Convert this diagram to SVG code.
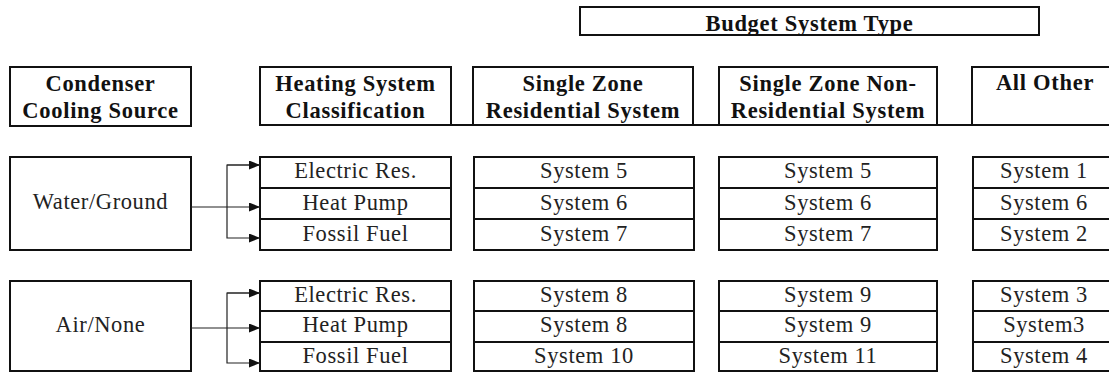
<svg xmlns="http://www.w3.org/2000/svg" width="1109" height="372" viewBox="0 0 1109 372">
<style>
.box{fill:#fff;stroke:#111;stroke-width:2}
.div{stroke:#111;stroke-width:2;fill:none}
.hd{font-family:"Liberation Serif","Times New Roman",serif;font-weight:bold;font-size:22.5px;letter-spacing:0.7px;fill:#111;text-anchor:middle}
.tx{font-family:"Liberation Serif","Times New Roman",serif;font-size:22.5px;letter-spacing:0.6px;fill:#222;text-anchor:middle}
.cn{stroke:#222;stroke-width:1.2;fill:none}
</style>
<defs>
<marker id="ah" viewBox="0 0 11 9" refX="11" refY="4.5" markerWidth="11" markerHeight="9" markerUnits="userSpaceOnUse" orient="auto">
<path d="M0,0 L11,4.5 L0,9 Z" fill="#111"/>
</marker>
</defs>
<rect width="1109" height="372" fill="#fff"/>

<g id="budget">
<rect class="box" x="580" y="7" width="459" height="28"/>
<text class="hd" x="809.5" y="31">Budget System Type</text>
</g>

<line class="div" x1="451" y1="125" x2="1109" y2="125"/>

<g id="hdr-condenser">
<rect class="box" x="10" y="67" width="181" height="59"/>
<text class="hd" x="100.5" y="91">Condenser</text>
<text class="hd" x="100.5" y="118">Cooling Source</text>
</g>
<g id="hdr-heating">
<rect class="box" x="260" y="67" width="191" height="58"/>
<text class="hd" x="355.5" y="91">Heating System</text>
<text class="hd" x="355.5" y="118">Classification</text>
</g>
<g id="hdr-szres">
<rect class="box" x="473" y="67" width="220" height="58"/>
<text class="hd" x="583" y="91">Single Zone</text>
<text class="hd" x="583" y="118">Residential System</text>
</g>
<g id="hdr-sznonres">
<rect class="box" x="719" y="67" width="218" height="58"/>
<text class="hd" x="828" y="91">Single Zone Non-</text>
<text class="hd" x="828" y="118">Residential System</text>
</g>
<g id="hdr-other">
<rect class="box" x="972" y="67" width="150" height="58"/>
<text class="hd" x="1045" y="90">All Other</text>
</g>

<g id="water-ground">
<rect class="box" x="10" y="157" width="181" height="93"/>
<text class="tx" x="100.5" y="209">Water/Ground</text>
</g>
<g id="air-none">
<rect class="box" x="10" y="281" width="181" height="90"/>
<text class="tx" x="100.5" y="332">Air/None</text>
</g>

<g id="heat-1">
<rect class="box" x="260" y="157" width="191" height="93"/>
<line class="div" x1="260" y1="188" x2="451" y2="188"/>
<line class="div" x1="260" y1="219" x2="451" y2="219"/>
<text class="tx" x="355.5" y="178">Electric Res.</text>
<text class="tx" x="355.5" y="210">Heat Pump</text>
<text class="tx" x="355.5" y="241">Fossil Fuel</text>
</g>
<g id="heat-2">
<rect class="box" x="260" y="281" width="191" height="90"/>
<line class="div" x1="260" y1="311" x2="451" y2="311"/>
<line class="div" x1="260" y1="342" x2="451" y2="342"/>
<text class="tx" x="355.5" y="302">Electric Res.</text>
<text class="tx" x="355.5" y="332">Heat Pump</text>
<text class="tx" x="355.5" y="363">Fossil Fuel</text>
</g>

<g id="szres-1">
<rect class="box" x="474" y="157" width="220" height="93"/>
<line class="div" x1="474" y1="188" x2="694" y2="188"/>
<line class="div" x1="474" y1="219" x2="694" y2="219"/>
<text class="tx" x="584" y="178">System 5</text>
<text class="tx" x="584" y="210">System 6</text>
<text class="tx" x="584" y="241">System 7</text>
</g>
<g id="szres-2">
<rect class="box" x="474" y="281" width="220" height="90"/>
<line class="div" x1="474" y1="311" x2="694" y2="311"/>
<line class="div" x1="474" y1="342" x2="694" y2="342"/>
<text class="tx" x="584" y="302">System 8</text>
<text class="tx" x="584" y="332">System 8</text>
<text class="tx" x="584" y="363">System 10</text>
</g>

<g id="sznonres-1">
<rect class="box" x="719" y="157" width="218" height="93"/>
<line class="div" x1="719" y1="188" x2="937" y2="188"/>
<line class="div" x1="719" y1="219" x2="937" y2="219"/>
<text class="tx" x="828" y="178">System 5</text>
<text class="tx" x="828" y="210">System 6</text>
<text class="tx" x="828" y="241">System 7</text>
</g>
<g id="sznonres-2">
<rect class="box" x="719" y="281" width="218" height="90"/>
<line class="div" x1="719" y1="311" x2="937" y2="311"/>
<line class="div" x1="719" y1="342" x2="937" y2="342"/>
<text class="tx" x="828" y="302">System 9</text>
<text class="tx" x="828" y="332">System 9</text>
<text class="tx" x="828" y="363">System 11</text>
</g>

<g id="other-1">
<rect class="box" x="973" y="157" width="150" height="93"/>
<line class="div" x1="973" y1="188" x2="1109" y2="188"/>
<line class="div" x1="973" y1="219" x2="1109" y2="219"/>
<text class="tx" x="1044" y="178">System 1</text>
<text class="tx" x="1044" y="210">System 6</text>
<text class="tx" x="1044" y="241">System 2</text>
</g>
<g id="other-2">
<rect class="box" x="973" y="281" width="150" height="90"/>
<line class="div" x1="973" y1="311" x2="1109" y2="311"/>
<line class="div" x1="973" y1="342" x2="1109" y2="342"/>
<text class="tx" x="1044" y="302">System 3</text>
<text class="tx" x="1044" y="332">System3</text>
<text class="tx" x="1044" y="363">System 4</text>
</g>

<g id="connectors">
<line class="cn" x1="191" y1="207" x2="260" y2="207" marker-end="url(#ah)"/>
<polyline class="cn" points="260,165 227,165 227,238 260,238" marker-end="url(#ah)"/>
<line class="cn" x1="227" y1="165" x2="260" y2="165" marker-end="url(#ah)"/>
<line class="cn" x1="191" y1="328" x2="260" y2="328" marker-end="url(#ah)"/>
<polyline class="cn" points="260,293 227,293 227,363 260,363" marker-end="url(#ah)"/>
<line class="cn" x1="227" y1="293" x2="260" y2="293" marker-end="url(#ah)"/>
</g>
</svg>
